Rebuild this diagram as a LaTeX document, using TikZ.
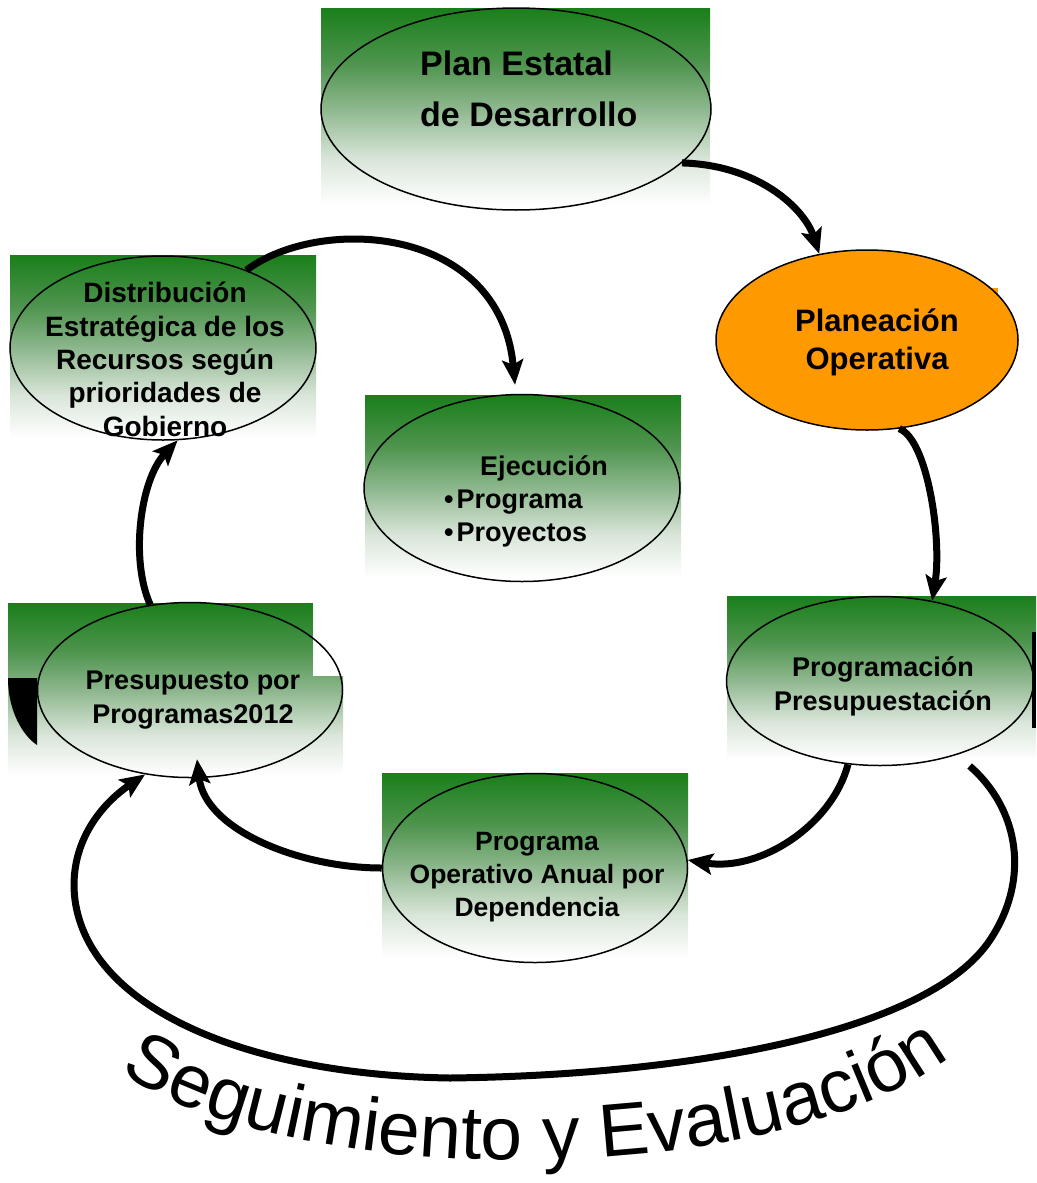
\documentclass[tikz,border=0pt]{standalone}
\usepackage{fontspec}
\setmainfont{Liberation Sans}
\usetikzlibrary{shapes.geometric,arrows.meta,decorations.text,calc}
\definecolor{gtop}{RGB}{26,127,26}
\definecolor{gq3}{RGB}{78,148,78}
\definecolor{gq2}{RGB}{142,183,142}
\definecolor{gq1}{RGB}{218,230,218}
\definecolor{orng}{RGB}{255,153,0}
\pgfdeclareverticalshading{gfade}{100bp}{color(0bp)=(white); color(25bp)=(white);
  color(36.5bp)=(gq1); color(49.5bp)=(gq2); color(61bp)=(gq3); color(75bp)=(gtop); color(100bp)=(gtop)}
\newcommand{\segfont}{\fontsize{75}{75}\selectfont}
\begin{document}
\begin{tikzpicture}[x=1pt,y=-1pt,
  bgrad/.style={shading=gfade,draw=none},
  oval/.style={ellipse,draw=black,line width=1.5pt,inner sep=0pt},
  lbl/.style={align=center,inner sep=0pt},
  flow/.style={line width=7pt,-{Stealth[length=25pt,width=21pt,inset=5pt]}}
]
\useasboundingbox (0,0) rectangle (1036,1183);
% gradient backgrounds
\shade[bgrad] (321,8) rectangle (710,205);
\shade[bgrad] (10,255) rectangle (316,438);
\shade[bgrad] (365,395) rectangle (681,578);
\shade[bgrad] (8,603) rectangle (343,775);
\fill[white] (313,600) rectangle (345,676);
\shade[bgrad] (727,596) rectangle (1036,760);
\shade[bgrad] (382,773) rectangle (688,958);
% small extra shapes
\fill[orng] (780,288) rectangle (998,387);
\fill[black] (8,678) -- (37,678) -- (37,745) .. controls (22,735) and (8,710) .. (8,678) -- cycle;
\fill[black] (1032,632) rectangle (1036,728);
% ellipses
\node[oval,minimum width=390pt,minimum height=202pt] (plan) at (516,109) {};
\node[oval,fill=orng,minimum width=302pt,minimum height=180pt] (plane) at (867,340) {};
\node[oval,minimum width=306pt,minimum height=184pt] (dist) at (163,348) {};
\node[oval,minimum width=316pt,minimum height=187pt] (ejec) at (522,488) {};
\node[oval,minimum width=305pt,minimum height=175pt] (pres) at (190,690) {};
\node[oval,minimum width=307pt,minimum height=169pt] (prog) at (880,681) {};
\node[oval,minimum width=305pt,minimum height=189pt] (poa) at (535,868) {};
% texts (anchor = baseline of the last line)
\node[lbl,align=left,anchor=base west,font=\bfseries\fontsize{34}{51}\selectfont] (plan-t) at (420,126) {Plan Estatal\\de Desarrollo};
\node[lbl,anchor=base,font=\bfseries\fontsize{31}{38}\selectfont] (plane-t) at (877,369) {Planeación\\Operativa};
\node[lbl,anchor=base,font=\bfseries\fontsize{28}{33.3}\selectfont] (dist-t) at (165,436) {Distribución\\Estratégica de los\\Recursos según\\prioridades de\\Gobierno};
\node[lbl,anchor=base,font=\bfseries\fontsize{27}{33}\selectfont] (ejec-t) at (544,475) {Ejecución};
\node[lbl,align=left,anchor=base west,font=\bfseries\fontsize{27}{33}\selectfont] (ejec-l) at (444,541) {•\hspace{3pt}Programa\\•\hspace{3pt}Proyectos};
\node[lbl,anchor=base,font=\bfseries\fontsize{27}{34}\selectfont] (pres-t) at (193,723) {Presupuesto por\\Programas2012};
\node[lbl,anchor=base,font=\bfseries\fontsize{27}{33.5}\selectfont] (prog-t) at (883,710) {Programación\\Presupuestación};
\node[lbl,anchor=base,font=\bfseries\fontsize{26.5}{33}\selectfont] (poa-t) at (537,916) {Programa\\Operativo Anual por\\Dependencia};
% connectors
\draw[flow] (plan.-18) .. controls (760,165) and (805,210) .. (plane.119);
\draw[flow] (plane.-70) .. controls (928,440) and (942,540) .. (prog.57);
\draw[flow] (prog.-111) .. controls (832,825) and (760,872) .. (poa.3);
\draw[flow] (poa.180) .. controls (300,868) and (205,830) .. ($(pres.south)+(7,-19)$);
\draw[flow] (pres.115) .. controls (130,560) and (140,480) .. (dist.-81);
\draw[flow] (dist.43) .. controls (320,215) and (500,225) .. ($(ejec.north)+(-7,-9)$);
\coordinate (gstart) at ($(prog.-44)+(13,11)$);
\draw[flow] (gstart) .. controls (1020,810) and (1030,880) .. (990,940)
  .. controls (930,1030) and (700,1075) .. (450,1078)
  .. controls (250,1075) and (90,1010) .. (75,900)
  .. controls (68,845) and (100,805) .. (pres.-118);
% curved caption
\path[decorate,decoration={text along path,text align=center,
  text={|\segfont|Seguimiento y Evaluación}}]
  (100,1055) .. controls (250,1195) and (800,1200) .. (970,1040);
\end{tikzpicture}
\end{document}
